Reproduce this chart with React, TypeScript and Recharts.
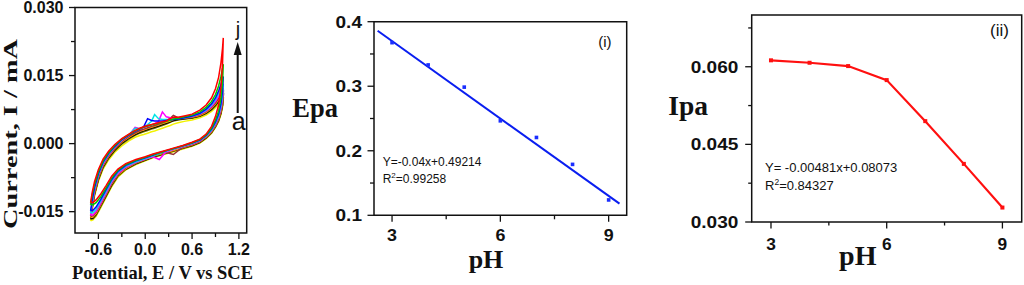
import React from 'react';
import { LineChart, Line, XAxis, YAxis, ReferenceArea, Label } from 'recharts';

const SANS = '"Liberation Sans", Arial, Helvetica, sans-serif';
const SERIF = '"Liberation Serif", "Times New Roman", Times, serif';
const INK = '#111';

// ---------- Panel 1: cyclic voltammograms (a..j) ----------
const cvUpperE = [-0.70, -0.68, -0.65, -0.60, -0.54, -0.47, -0.39, -0.30, -0.21, -0.13, -0.07, -0.02, 0.03, 0.08, 0.12, 0.17, 0.22, 0.27, 0.32, 0.36, 0.42, 0.50, 0.60, 0.70, 0.78, 0.85, 0.90, 0.94, 0.97, 0.99, 1.00];
const cvLowerE = [0.99, 0.97, 0.94, 0.90, 0.85, 0.78, 0.70, 0.60, 0.48, 0.36, 0.26, 0.18, 0.10, 0.00, -0.12, -0.25, -0.35, -0.43, -0.50, -0.57, -0.63, -0.67, -0.70];

const upA = [-0.0170, -0.0146, -0.0116, -0.0083, -0.0056, -0.0036, -0.0019, -0.0005, 0.0006, 0.0014, 0.0018, 0.0020, 0.0023, 0.0026, 0.0028, 0.0031, 0.0034, 0.0037, 0.0040, 0.0043, 0.0046, 0.0049, 0.0052, 0.0057, 0.0063, 0.0071, 0.0079, 0.0087, 0.0093, 0.0096, 0.0098];
const loA = [0.0080, 0.0064, 0.0049, 0.0036, 0.0023, 0.0011, 0.0001, -0.0006, -0.0012, -0.0018, -0.0023, -0.0027, -0.0031, -0.0038, -0.0046, -0.0058, -0.0074, -0.0095, -0.0118, -0.0141, -0.0160, -0.0168, -0.0170];
const upB = [-0.0167, -0.0143, -0.0113, -0.0080, -0.0053, -0.0033, -0.0016, -0.0001, 0.0010, 0.0018, 0.0023, 0.0026, 0.0029, 0.0032, 0.0034, 0.0037, 0.0040, 0.0043, 0.0047, 0.0050, 0.0052, 0.0054, 0.0056, 0.0060, 0.0066, 0.0074, 0.0083, 0.0092, 0.0098, 0.0102, 0.0104];
const loB = [0.0083, 0.0066, 0.0050, 0.0037, 0.0024, 0.0012, 0.0002, -0.0005, -0.0011, -0.0017, -0.0022, -0.0026, -0.0030, -0.0037, -0.0045, -0.0057, -0.0072, -0.0093, -0.0116, -0.0139, -0.0158, -0.0166, -0.0167];
const upC = [-0.0165, -0.0141, -0.0111, -0.0078, -0.0051, -0.0031, -0.0014, 0.0001, 0.0012, 0.0020, 0.0025, 0.0028, 0.0031, 0.0034, 0.0036, 0.0039, 0.0042, 0.0045, 0.0048, 0.0051, 0.0053, 0.0055, 0.0057, 0.0061, 0.0067, 0.0076, 0.0085, 0.0094, 0.0101, 0.0105, 0.0107];
const loC = [0.0085, 0.0068, 0.0052, 0.0038, 0.0025, 0.0013, 0.0003, -0.0004, -0.0010, -0.0016, -0.0021, -0.0025, -0.0029, -0.0036, -0.0044, -0.0056, -0.0070, -0.0091, -0.0114, -0.0137, -0.0156, -0.0164, -0.0165];
const upD = [-0.0163, -0.0139, -0.0109, -0.0076, -0.0049, -0.0029, -0.0012, 0.0003, 0.0014, 0.0022, 0.0027, 0.0030, 0.0033, 0.0036, 0.0038, 0.0041, 0.0044, 0.0047, 0.0050, 0.0053, 0.0055, 0.0056, 0.0058, 0.0062, 0.0069, 0.0078, 0.0087, 0.0097, 0.0104, 0.0108, 0.0110];
const loD = [0.0088, 0.0070, 0.0053, 0.0039, 0.0026, 0.0014, 0.0004, -0.0003, -0.0009, -0.0015, -0.0020, -0.0024, -0.0028, -0.0035, -0.0043, -0.0055, -0.0069, -0.0089, -0.0112, -0.0135, -0.0154, -0.0162, -0.0163];
const upE = [-0.0160, -0.0136, -0.0106, -0.0073, -0.0047, -0.0027, -0.0010, 0.0005, 0.0016, 0.0024, 0.0029, 0.0032, 0.0035, 0.0038, 0.0040, 0.0043, 0.0046, 0.0050, 0.0056, 0.0062, 0.0057, 0.0057, 0.0059, 0.0064, 0.0071, 0.0080, 0.0090, 0.0100, 0.0108, 0.0112, 0.0114];
const loE = [0.0092, 0.0073, 0.0055, 0.0041, 0.0028, 0.0015, 0.0005, -0.0002, -0.0008, -0.0024, -0.0019, -0.0022, -0.0027, -0.0034, -0.0042, -0.0053, -0.0067, -0.0087, -0.0110, -0.0133, -0.0151, -0.0159, -0.0160];
const upF = [-0.0158, -0.0133, -0.0103, -0.0070, -0.0045, -0.0025, -0.0008, 0.0007, 0.0018, 0.0036, 0.0033, 0.0035, 0.0038, 0.0041, 0.0044, 0.0049, 0.0070, 0.0059, 0.0057, 0.0057, 0.0057, 0.0058, 0.0060, 0.0065, 0.0072, 0.0082, 0.0093, 0.0104, 0.0114, 0.0119, 0.0122];
const loF = [0.0098, 0.0077, 0.0058, 0.0043, 0.0029, 0.0016, 0.0006, -0.0001, -0.0007, -0.0013, -0.0019, -0.0035, -0.0029, -0.0034, -0.0041, -0.0052, -0.0066, -0.0085, -0.0108, -0.0131, -0.0149, -0.0157, -0.0158];
const upG = [-0.0153, -0.0129, -0.0100, -0.0068, -0.0043, -0.0023, -0.0007, 0.0008, 0.0019, 0.0034, 0.0033, 0.0037, 0.0042, 0.0049, 0.0064, 0.0055, 0.0053, 0.0053, 0.0053, 0.0054, 0.0055, 0.0057, 0.0060, 0.0066, 0.0074, 0.0085, 0.0097, 0.0110, 0.0122, 0.0128, 0.0132];
const loG = [0.0105, 0.0082, 0.0061, 0.0045, 0.0030, 0.0017, 0.0007, 0.0000, -0.0006, -0.0012, -0.0017, -0.0022, -0.0027, -0.0033, -0.0040, -0.0050, -0.0063, -0.0082, -0.0105, -0.0127, -0.0145, -0.0152, -0.0153];
const upH = [-0.0148, -0.0125, -0.0097, -0.0066, -0.0041, -0.0022, -0.0006, 0.0009, 0.0019, 0.0027, 0.0032, 0.0037, 0.0055, 0.0051, 0.0050, 0.0050, 0.0050, 0.0051, 0.0052, 0.0053, 0.0054, 0.0057, 0.0061, 0.0067, 0.0076, 0.0088, 0.0101, 0.0116, 0.0131, 0.0142, 0.0148];
const loH = [0.0115, 0.0088, 0.0065, 0.0048, 0.0032, 0.0018, 0.0008, 0.0001, -0.0005, -0.0011, -0.0016, -0.0020, -0.0025, -0.0031, -0.0038, -0.0048, -0.0061, -0.0079, -0.0101, -0.0123, -0.0140, -0.0147, -0.0148];
const upI = [-0.0135, -0.0114, -0.0090, -0.0062, -0.0038, -0.0020, -0.0004, 0.0010, 0.0020, 0.0028, 0.0033, 0.0036, 0.0039, 0.0041, 0.0043, 0.0045, 0.0047, 0.0049, 0.0052, 0.0054, 0.0056, 0.0059, 0.0063, 0.0070, 0.0080, 0.0093, 0.0108, 0.0127, 0.0148, 0.0165, 0.0175];
const loI = [0.0135, 0.0100, 0.0072, 0.0052, 0.0034, 0.0019, 0.0009, 0.0002, -0.0005, -0.0011, -0.0016, -0.0020, -0.0024, -0.0030, -0.0037, -0.0046, -0.0059, -0.0076, -0.0097, -0.0117, -0.0130, -0.0135, -0.0135];
const upJ = [-0.0130, -0.0108, -0.0084, -0.0057, -0.0034, -0.0017, -0.0002, 0.0011, 0.0021, 0.0029, 0.0034, 0.0037, 0.0040, 0.0042, 0.0044, 0.0046, 0.0048, 0.0050, 0.0055, 0.0058, 0.0058, 0.0061, 0.0065, 0.0074, 0.0085, 0.0101, 0.0121, 0.0146, 0.0178, 0.0210, 0.0233];
const loJ = [0.0175, 0.0125, 0.0085, 0.0060, 0.0038, 0.0021, 0.0010, 0.0003, -0.0004, -0.0010, -0.0015, -0.0019, -0.0023, -0.0029, -0.0035, -0.0044, -0.0056, -0.0072, -0.0092, -0.0111, -0.0124, -0.0130, -0.0130];

const cvNames = ['a', 'b', 'c', 'd', 'e', 'f', 'g', 'h', 'i', 'j'];
const cvUppers = [upA, upB, upC, upD, upE, upF, upG, upH, upI, upJ];
const cvLowers = [loA, loB, loC, loD, loE, loF, loG, loH, loI, loJ];
const cvColors = ['#F2F200', '#808000', '#000000', '#FF9900', '#993333', '#FF00FF', '#00E5E5', '#0000FF', '#00C800', '#FF0000'];

const cvXTicks = [-0.6, -0.3, 0, 0.3, 0.6, 0.9, 1.2];
const cvXMajor = [-0.6, 0, 0.6, 1.2];
const cvYTicks = [-0.015, -0.0075, 0, 0.0075, 0.015, 0.0225, 0.03];
const cvYMajor = [-0.015, 0, 0.015, 0.03];
const cvXDomain = [-0.9, 1.3];
const cvYDomain = [-0.0197, 0.03];

// ---------- Panel 2: Epa vs pH ----------
const phValues = [3, 4, 5, 6, 7, 8, 9];
const epaValues = [0.3675, 0.333, 0.2986, 0.2464, 0.2206, 0.1789, 0.1238];
const epaFitPH = [2.6, 9.3];
const epaFitValues = [0.386, 0.118];
const phTicks = [3, 4.5, 6, 7.5, 9];
const phMajor = [3, 6, 9];
const phDomain = [2.5, 9.5];
const epaTicks = [0.1, 0.15, 0.2, 0.25, 0.3, 0.35, 0.4];
const epaMajor = [0.1, 0.2, 0.3, 0.4];
const epaDomain = [0.1, 0.4];

// ---------- Panel 3: Ipa vs pH ----------
const ipaValues = [0.06124, 0.06077, 0.06013, 0.05742, 0.04949, 0.04123, 0.03279];
const ipaTicks = [0.03, 0.0375, 0.045, 0.0525, 0.06, 0.0675];
const ipaMajor = [0.03, 0.045, 0.06];
const ipaDomain = [0.03, 0.07];

// ---------- data tables ----------
const cvCurves = cvNames.map((name, k) => ({
  name,
  color: cvColors[k],
  data: [
    ...cvUpperE.map((x, i) => ({ x, y: cvUppers[k][i] })),
    ...cvLowerE.map((x, i) => ({ x, y: cvLowers[k][i] })),
  ],
}));
const epaData = phValues.map((x, i) => ({ x, y: epaValues[i] }));
const epaFit = epaFitPH.map((x, i) => ({ x, y: epaFitValues[i] }));
const ipaData = phValues.map((x, i) => ({ x, y: ipaValues[i] }));

// ---------- tick factory (major + minor ticks, outward) ----------
type TickOpts = {
  side: 'bottom' | 'left';
  majors: number[];
  digits: number;
  font: number;
  offset: number;
  base: number;
  majorLen: number;
  minorLen: number;
  sx: number;
};
function makeTick(o: TickOpts) {
  return function Tick(props: any) {
    const { x, y, payload } = props;
    const v = Number(payload && payload.value);
    const major = o.majors.some((m) => Math.abs(m - v) < 1e-9);
    const len = major ? o.majorLen : o.minorLen;
    const label = o.digits === 0 ? String(Math.round(v)) : v.toFixed(o.digits);
    if (o.side === 'bottom') {
      return (
        <g>
          <line x1={x} x2={x} y1={y} y2={y + len} stroke={INK} strokeWidth={1.3} />
          {major && (
            <text
              transform={`translate(${x},${y + o.offset}) scale(${o.sx},1)`}
              textAnchor="middle"
              fontFamily={SANS}
              fontWeight="bold"
              fontSize={o.font}
              fill={INK}
            >
              {label}
            </text>
          )}
        </g>
      );
    }
    return (
      <g>
        <line x1={x - len} x2={x} y1={y} y2={y} stroke={INK} strokeWidth={1.3} />
        {major && (
          <text
            transform={`translate(${x - o.offset},${y + o.base}) scale(${o.sx},1)`}
            textAnchor="end"
            fontFamily={SANS}
            fontWeight="bold"
            fontSize={o.font}
            fill={INK}
          >
            {label}
          </text>
        )}
      </g>
    );
  };
}

const cvXTick = makeTick({ side: 'bottom', majors: cvXMajor, digits: 1, font: 16, offset: 22, base: 0, majorLen: 6, minorLen: 4, sx: 1 });
const cvYTick = makeTick({ side: 'left', majors: cvYMajor, digits: 3, font: 16, offset: 11.5, base: 5.5, majorLen: 6, minorLen: 4, sx: 1 });
const epaXTick = makeTick({ side: 'bottom', majors: phMajor, digits: 0, font: 17, offset: 26, base: 0, majorLen: 6.5, minorLen: 4, sx: 1.05 });
const epaYTick = makeTick({ side: 'left', majors: epaMajor, digits: 1, font: 17, offset: 12, base: 6, majorLen: 6.5, minorLen: 4, sx: 1.12 });
const ipaXTick = makeTick({ side: 'bottom', majors: phMajor, digits: 0, font: 16.5, offset: 28, base: 0, majorLen: 6.5, minorLen: 3.5, sx: 1.05 });
const ipaYTick = makeTick({ side: 'left', majors: ipaMajor, digits: 3, font: 17, offset: 13.4, base: 6, majorLen: 6.5, minorLen: 3.5, sx: 1.12 });

const squareDot = (color: string, s: number) => (p: any) => (
  <rect key={`d${p.index}`} x={p.cx - s / 2} y={p.cy - s / 2} width={s} height={s} fill={color} />
);

const note = (el: React.ReactElement) => () => el;

const frame = { fill: 'none', stroke: INK, strokeWidth: 1.5, ifOverflow: 'visible' as const };

function CVPanel() {
  return (
    <LineChart width={260} height={285} margin={{ top: 7.5, right: 13.3, bottom: 0, left: 0 }}>
      <XAxis type="number" dataKey="x" domain={cvXDomain} allowDataOverflow ticks={cvXTicks} interval={0}
        tickSize={0} tickMargin={0} tickLine={false} axisLine={false} height={52} tick={cvXTick} />
      <YAxis type="number" domain={cvYDomain} allowDataOverflow ticks={cvYTicks} interval={0}
        tickSize={0} tickMargin={0} tickLine={false} axisLine={false} width={75} tick={cvYTick} />
      {cvCurves.map((c) => (
        <Line key={c.name} name={c.name} data={c.data} dataKey="y" type="linear" stroke={c.color}
          strokeWidth={1.5} dot={false} isAnimationActive={false} />
      ))}
      <ReferenceArea x1={cvXDomain[0]} x2={cvXDomain[1]} y1={cvYDomain[0]} y2={cvYDomain[1]} {...frame}>
        <Label content={note(
          <text transform="translate(17,134) rotate(-90)" textAnchor="middle" fontFamily={SERIF}
            fontWeight="bold" fontSize={19.5} fill={INK} textLength={190} lengthAdjust="spacingAndGlyphs">
            Current, I / mA
          </text>
        )} />
        <Label content={note(
          <text x={162.5} y={279} textAnchor="middle" fontFamily={SERIF} fontWeight="bold" fontSize={19}
            fill={INK} textLength={181} lengthAdjust="spacingAndGlyphs">
            Potential, E / V vs SCE
          </text>
        )} />
        <Label content={note(
          <g>
            <text x={238} y={36} textAnchor="middle" fontFamily={SANS} fontSize={20} fill={INK}>j</text>
            <line x1={237.7} y1={113} x2={237.7} y2={52} stroke={INK} strokeWidth={2} />
            <polygon points="233.7,55 241.7,55 237.7,42" fill={INK} />
            <text x={238.8} y={130} textAnchor="middle" fontFamily={SANS} fontSize={25} fill={INK}>a</text>
          </g>
        )} />
      </ReferenceArea>
    </LineChart>
  );
}

function EpaPanel() {
  return (
    <LineChart width={400} height={285} margin={{ top: 21.7, right: 33.3, bottom: 0, left: 0 }}>
      <XAxis type="number" dataKey="x" domain={phDomain} allowDataOverflow ticks={phTicks} interval={0}
        tickSize={0} tickMargin={0} tickLine={false} axisLine={false} height={69.7} tick={epaXTick} />
      <YAxis type="number" domain={epaDomain} allowDataOverflow ticks={epaTicks} interval={0}
        tickSize={0} tickMargin={0} tickLine={false} axisLine={false} width={114} tick={epaYTick} />
      <Line data={epaFit} dataKey="y" type="linear" stroke="#0A1EF0" strokeWidth={2} dot={false}
        isAnimationActive={false} />
      <Line data={epaData} dataKey="y" type="linear" stroke="none" dot={squareDot('#1A2EFF', 3.6)}
        isAnimationActive={false} />
      <ReferenceArea x1={phDomain[0]} x2={phDomain[1]} y1={epaDomain[0]} y2={epaDomain[1]} {...frame}>
        <Label content={note(
          <text x={32.3} y={117} fontFamily={SERIF} fontWeight="bold" fontSize={26.5} fill={INK}>Epa</text>
        )} />
        <Label content={note(
          <text x={226} y={268} textAnchor="middle" fontFamily={SERIF} fontWeight="bold" fontSize={26} fill={INK}>pH</text>
        )} />
        <Label content={note(
          <g fontFamily={SANS} fill={INK}>
            <text x={338.3} y={47} fontSize={15}>(i)</text>
            <text x={122.7} y={165.7} fontSize={12}>Y=-0.04x+0.49214</text>
            <text x={122.7} y={182.7} fontSize={12}>
              R<tspan dy={-5} fontSize={8}>2</tspan><tspan dy={5}>=0.99258</tspan>
            </text>
          </g>
        )} />
      </ReferenceArea>
    </LineChart>
  );
}

function IpaPanel() {
  return (
    <LineChart width={364} height={285} margin={{ top: 15, right: 2.3, bottom: 0, left: 0 }}>
      <XAxis type="number" dataKey="x" domain={phDomain} allowDataOverflow ticks={phTicks} interval={0}
        tickSize={0} tickMargin={0} tickLine={false} axisLine={false} height={63} tick={ipaXTick} />
      <YAxis type="number" domain={ipaDomain} allowDataOverflow ticks={ipaTicks} interval={0}
        tickSize={0} tickMargin={0} tickLine={false} axisLine={false} width={91.7} tick={ipaYTick} />
      <Line data={ipaData} dataKey="y" type="linear" stroke="#FF1010" strokeWidth={2.2}
        dot={squareDot('#FF1010', 4)} isAnimationActive={false} />
      <ReferenceArea x1={phDomain[0]} x2={phDomain[1]} y1={ipaDomain[0]} y2={ipaDomain[1]} {...frame}>
        <Label content={note(
          <text x={8.3} y={115} fontFamily={SERIF} fontWeight="bold" fontSize={27.5} fill={INK}>Ipa</text>
        )} />
        <Label content={note(
          <text x={197.8} y={265} textAnchor="middle" fontFamily={SERIF} fontWeight="bold" fontSize={28} fill={INK}>pH</text>
        )} />
        <Label content={note(
          <g fontFamily={SANS} fill={INK}>
            <text x={330} y={36} fontSize={17}>(ii)</text>
            <text x={105} y={171.7} fontSize={13}>Y= -0.00481x+0.08073</text>
            <text x={105} y={190} fontSize={13}>
              R<tspan dy={-5} fontSize={8.5}>2</tspan><tspan dy={5}>=0.84327</tspan>
            </text>
          </g>
        )} />
      </ReferenceArea>
    </LineChart>
  );
}

export default function App() {
  return (
    <div style={{ position: 'absolute', left: 0, top: 0, width: 1024, height: 285, background: '#fff', overflow: 'hidden' }}>
      <div style={{ position: 'absolute', left: 0, top: 0 }}><CVPanel /></div>
      <div style={{ position: 'absolute', left: 260, top: 0 }}><EpaPanel /></div>
      <div style={{ position: 'absolute', left: 660, top: 0 }}><IpaPanel /></div>
    </div>
  );
}
